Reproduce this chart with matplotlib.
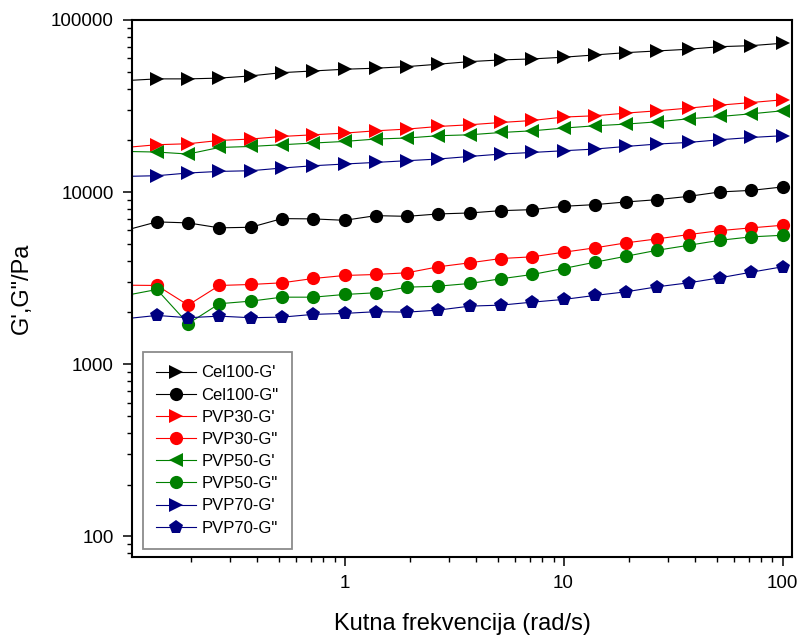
import matplotlib
matplotlib.use("Agg")
import matplotlib.pyplot as plt
from matplotlib.ticker import FixedLocator, FuncFormatter, LogLocator, NullFormatter

plt.rcParams['font.family'] = ['Liberation Sans', 'DejaVu Sans']

freq = [0.1, 0.139, 0.193, 0.268, 0.373, 0.518, 0.720, 1.0, 1.39, 1.93, 2.68,
        3.73, 5.18, 7.20, 10.0, 13.9, 19.3, 26.8, 37.3, 51.8, 72.0, 100.0]

cel100_g1 = [44460, 45500, 45500, 45970, 47350, 49460, 50590, 51760, 52480, 53620, 55360,
             57320, 58640, 59420, 60790, 62680, 64630, 66120, 67640, 70000, 70960, 73270]
cel100_g2 = [6005, 6719, 6630, 6204, 6253, 7021, 6993, 6863, 7305, 7237, 7472,
             7572, 7809, 7915, 8277, 8465, 8771, 9046, 9456, 10030, 10240, 10720]
pvp30_g1 = [18180, 18860, 19110, 19970, 20350, 21070, 21540, 22030, 22720, 23250, 24070,
            24630, 25390, 26080, 27300, 27780, 28790, 29690, 30780, 32020, 33160, 34380]
pvp30_g2 = [2882, 2871, 2207, 2871, 2909, 2975, 3152, 3281, 3325, 3402, 3685,
            3887, 4117, 4211, 4477, 4748, 5076, 5355, 5670, 5980, 6204, 6422]
pvp50_g1 = [17240, 17100, 16650, 18180, 18430, 18860, 19290, 19710, 20350, 20630, 21270,
            21540, 22210, 22720, 23560, 24290, 24850, 25620, 26680, 27510, 28520, 29690]
pvp50_g2 = [2512, 2721, 1722, 2249, 2328, 2455, 2455, 2545, 2604, 2806, 2844,
            2949, 3140, 3325, 3602, 3918, 4244, 4599, 4915, 5255, 5500, 5618]
pvp70_g1 = [12350, 12460, 12920, 13200, 13320, 13810, 14240, 14570, 14890, 15230, 15580,
            16120, 16650, 17010, 17400, 17800, 18430, 19030, 19450, 20160, 20780, 21270]
pvp70_g2 = [1840, 1923, 1865, 1905, 1865, 1880, 1950, 1976, 2021, 2010, 2065,
            2178, 2207, 2297, 2381, 2512, 2638, 2821, 2975, 3181, 3429, 3685]

series = [
    ("Cel100-G'", cel100_g1, '>', '#000000'),
    ('Cel100-G"', cel100_g2, 'o', '#000000'),
    ("PVP30-G'", pvp30_g1, '>', '#ff0000'),
    ('PVP30-G"', pvp30_g2, 'o', '#ff0000'),
    ("PVP50-G'", pvp50_g1, '<', '#008000'),
    ('PVP50-G"', pvp50_g2, 'o', '#008000'),
    ("PVP70-G'", pvp70_g1, '>', '#000080'),
    ('PVP70-G"', pvp70_g2, 'p', '#000080'),
]

fig = plt.figure(figsize=(8.03, 6.36), dpi=100)
ax = fig.add_axes([132/803, 1-557/636, (792-132)/803, (557-20)/636])

for label, vals, mk, col in series:
    ax.plot(freq, vals, marker=mk, color=col, linewidth=0.8, markersize=10 if mk != 'o' else 9.5,
            markeredgewidth=0, label=label)

ax.set_xscale('log')
ax.set_yscale('log')
ax.set_xlim(0.107, 110.5)
ax.set_ylim(76, 100000)

ax.xaxis.set_major_locator(FixedLocator([1, 10, 100]))
ax.xaxis.set_major_formatter(FuncFormatter(lambda v, p: '%g' % v))
ax.xaxis.set_minor_locator(LogLocator(base=10, subs=range(2, 10)))
ax.xaxis.set_minor_formatter(NullFormatter())
ax.yaxis.set_major_locator(FixedLocator([100, 1000, 10000, 100000]))
ax.yaxis.set_major_formatter(FuncFormatter(lambda v, p: '%d' % v))
ax.yaxis.set_minor_locator(LogLocator(base=10, subs=range(2, 10)))
ax.yaxis.set_minor_formatter(NullFormatter())

for s in ax.spines.values():
    s.set_linewidth(1.5)

ax.tick_params(which='major', direction='out', length=6.5, width=1.1, labelsize=13.5, pad=6.5,
               top=False, right=False)
ax.tick_params(which='minor', direction='out', length=3.5, width=1.0, top=False, right=False)

ax.set_xlabel('Kutna frekvencija (rad/s)', fontsize=17, labelpad=15)
ax.set_ylabel('G\',G"/Pa', fontsize=17, labelpad=13)

leg = ax.legend(loc='lower left', bbox_to_anchor=(0.0167, 0.0149), borderaxespad=0,
                fontsize=12, frameon=True, fancybox=False, edgecolor='#6e6e6e',
                handlelength=2.4, handletextpad=0.3, labelspacing=0.43, borderpad=0.8,
                markerscale=1.0)
leg.get_frame().set_linewidth(1.3)

fig.savefig('out.png', dpi=100)
